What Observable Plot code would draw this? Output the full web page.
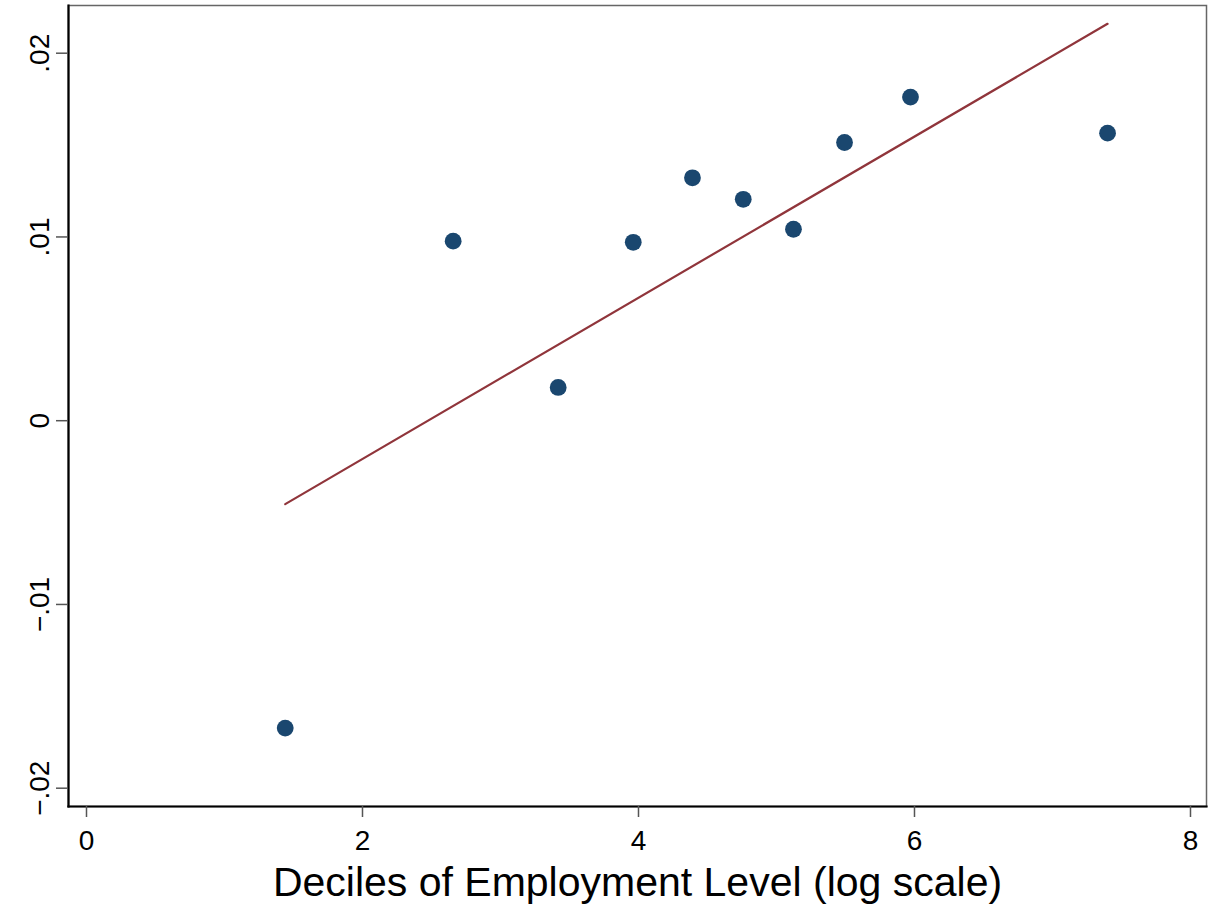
<!DOCTYPE html>
<html>
<head>
<meta charset="utf-8">
<script src="https://cdn.jsdelivr.net/npm/d3@7"></script>
<script src="https://cdn.jsdelivr.net/npm/@observablehq/plot@0.6"></script>
<style>
  html, body { margin: 0; padding: 0; background: #fff; }
  svg { display: block; }
</style>
</head>
<body>
<div id="chart"></div>
<script>
// Decile points (x: log employment level, y: effect)
const deciles = [1, 2, 3, 4, 5, 6, 7, 8, 9, 10];
const xValues = [1.440, 2.657, 3.418, 3.962, 4.391, 4.759, 5.123, 5.493, 5.971, 7.399];
const yValues = [-0.01673, 0.00977, 0.00181, 0.00971, 0.01322, 0.01205, 0.01042, 0.01514, 0.01761, 0.01565];

// Fitted line endpoints
const fitX = [1.440, 7.399];
const fitY = [-0.00454, 0.02160];

const xTicks = [0, 2, 4, 6, 8];
const yTicks = [-0.02, -0.01, 0, 0.01, 0.02];
const xLabel = "Deciles of Employment Level (log scale)";

const points = deciles.map((d, i) => ({decile: d, x: xValues[i], y: yValues[i]}));
const fit = fitX.map((x, i) => ({x, y: fitY[i]}));

const yFmt = d => d === 0 ? "0" : d3.format(".2f")(d).replace("0.", ".");

const chart = Plot.plot({
  width: 1212,
  height: 904,
  marginLeft: 68,
  marginRight: 6,
  marginTop: 5,
  marginBottom: 98,
  style: {fontFamily: "'Liberation Sans', Arial, sans-serif", background: "#fff", color: "#000"},
  x: {domain: [-0.1304, 8.116]},
  y: {domain: [-0.020996, 0.022596]},
  marks: [
    Plot.frame({stroke: "#666", strokeWidth: 1.5}),
    Plot.frame({anchor: "left", stroke: "#000", strokeWidth: 2.2}),
    Plot.frame({anchor: "bottom", stroke: "#000", strokeWidth: 2.2}),
    Plot.axisX({
      ticks: xTicks, tickSize: 11, tickPadding: 13, tickFormat: d3.format("d"),
      fontSize: 28, stroke: "#555", strokeWidth: 1.5, fill: "#000", label: null
    }),
    Plot.axisY({
      ticks: yTicks, tickSize: 12, tickPadding: 8, tickRotate: -90, tickFormat: yFmt,
      fontSize: 28, stroke: "#555", strokeWidth: 1.5, fill: "#000", label: null
    }),
    Plot.text([xLabel], {frameAnchor: "bottom", dy: 89, fontSize: 41, fill: "#000", lineAnchor: "bottom"}),
    Plot.line(fit, {x: "x", y: "y", stroke: "#90353b", strokeWidth: 2.2}),
    Plot.dot(points, {x: "x", y: "y", r: 8.4, fill: "#1a476f", stroke: "none"})
  ]
});
document.getElementById("chart").append(chart);
</script>
</body>
</html>
